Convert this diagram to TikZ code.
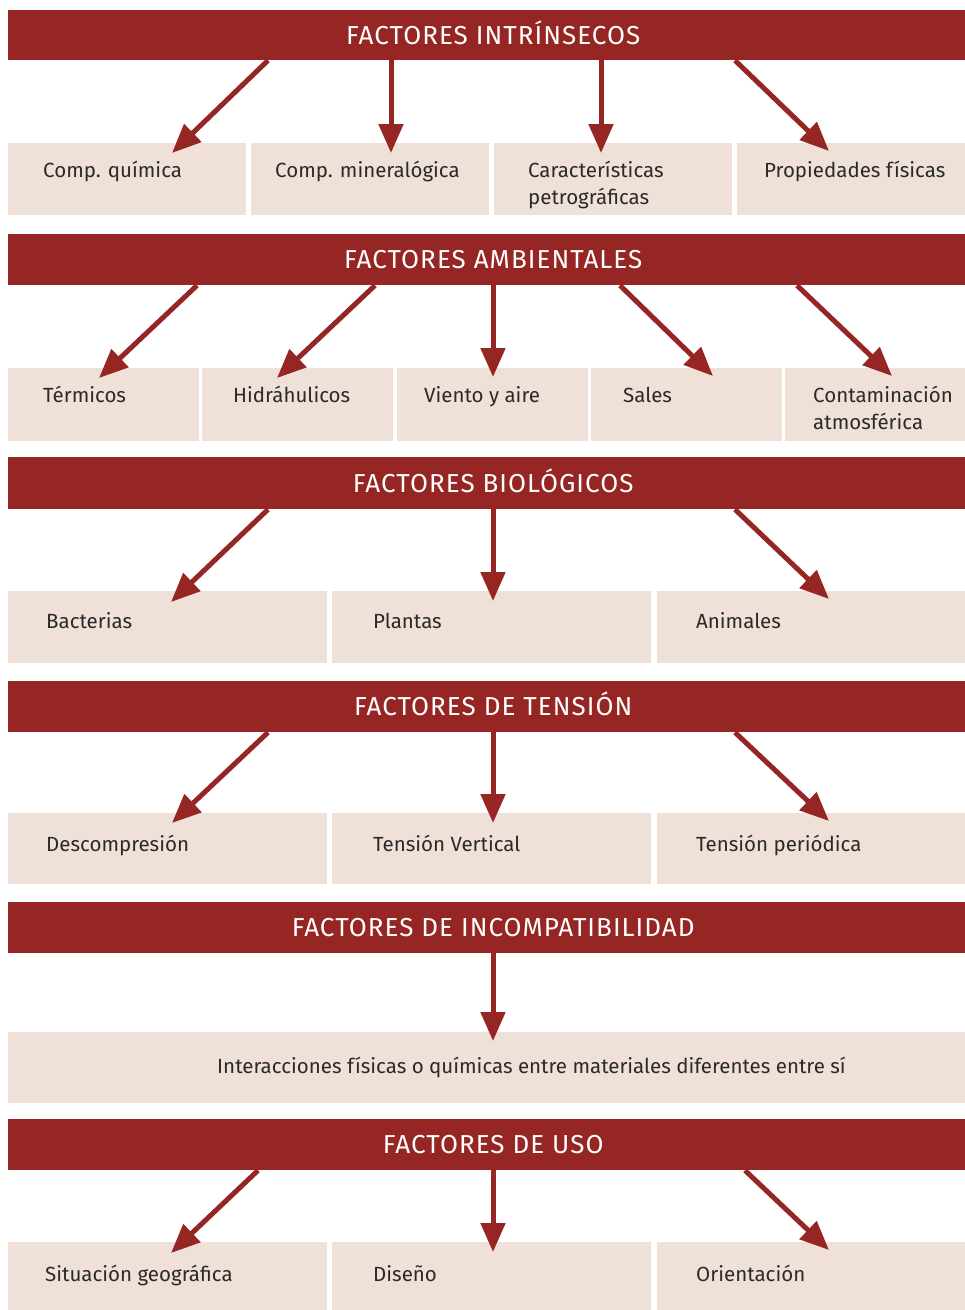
\documentclass[tikz,border=0pt]{standalone}
\usepackage{fontspec}
\setmainfont{Fira Sans}
\newfontfamily\hdrfont[LetterSpace=4]{Fira Sans}
\usetikzlibrary{arrows.meta,calc}
\definecolor{hdr}{HTML}{962624}
\definecolor{boxc}{HTML}{EFE0D8}
\definecolor{txtc}{HTML}{2A2A2A}
\tikzset{
  hdrbox/.style={fill=hdr, draw=none, anchor=north west, inner sep=0pt, minimum width=957pt, text=white,
    text height=18pt, text depth=0pt, font=\hdrfont\fontsize{26}{30}\selectfont},
  itembox/.style={fill=boxc, draw=none, anchor=north west, inner sep=0pt},
  itemtxt/.style={anchor=base west, inner sep=0pt, text=txtc, align=left, font=\fontsize{20.5}{27}\selectfont},
  arr/.style={draw=hdr, line width=5pt, -{Triangle[length=29pt,width=24pt]}}
}
% name, x1, x2, ytop, h, text dx, text baseline dy, text
\newcommand{\itm}[8]{%
  \node[itembox, minimum width={(#3-#2)*1pt}, minimum height={#5*1pt}] (#1) at (#2,#4) {};
  \node[itemtxt] (#1t) at ($(#1.north west)+(#6,#7)$) {#8};
}
\newcommand{\hsh}{\hspace*{13pt}}
\begin{document}
\begin{tikzpicture}[x=1pt,y=-1pt]
\useasboundingbox[fill=white] (0,0) rectangle (965,1310);

% ---------- Row 1
\node[hdrbox, minimum height=50pt] (h1) at (8,10) {\hsh FACTORES INTRÍNSECOS};
\itm{b11}{8}{246}{143}{72}{35}{34}{Comp. química}
\itm{b12}{251}{489}{143}{72}{24}{34}{Comp. mineralógica}
\itm{b13}{494}{732}{143}{72}{34}{61}{Características\\petrográficas}
\itm{b14}{737}{965}{143}{72}{27}{34}{Propiedades físicas}
\draw[arr] ($(h1.south west)+(260,0)$) -- ($(b11.north west)+(164,10)$);
\draw[arr] ($(h1.south west)+(383,0)$) -- ($(b12.north west)+(140,10)$);
\draw[arr] ($(h1.south west)+(593,0)$) -- ($(b13.north west)+(107,10)$);
\draw[arr] ($(h1.south west)+(727,0)$) -- ($(b14.north west)+(92,8)$);

% ---------- Row 2
\node[hdrbox, minimum height=51pt] (h2) at (8,234) {\hsh FACTORES AMBIENTALES};
\itm{b21}{8}{199}{368}{73}{35}{34}{Térmicos}
\itm{b22}{202}{393}{368}{73}{31}{34}{Hidráhulicos}
\itm{b23}{397}{588}{368}{73}{27}{34}{Viento y aire}
\itm{b24}{591}{782}{368}{73}{32}{34}{Sales}
\itm{b25}{785}{965}{368}{73}{28}{61}{Contaminación\\atmosférica}
\draw[arr] ($(h2.south west)+(189,0)$) -- ($(b21.north west)+(91,10)$);
\draw[arr] ($(h2.south west)+(367,0)$) -- ($(b22.north west)+(75,10)$);
\draw[arr] ($(h2.south west)+(485,0)$) -- ($(b23.north west)+(96,9)$);
\draw[arr] ($(h2.south west)+(612,0)$) -- ($(b24.north west)+(122,8)$);
\draw[arr] ($(h2.south west)+(789,0)$) -- ($(b25.north west)+(107,8)$);

% ---------- Row 3
\node[hdrbox, minimum height=52pt] (h3) at (8,457) {\hsh FACTORES BIOLÓGICOS};
\itm{b31}{8}{327}{591}{72}{38}{37}{Bacterias}
\itm{b32}{332}{651}{591}{72}{41}{37}{Plantas}
\itm{b33}{657}{965}{591}{72}{39}{37}{Animales}
\draw[arr] ($(h3.south west)+(260,0)$) -- ($(b31.north west)+(163,11)$);
\draw[arr] ($(h3.south west)+(485,0)$) -- ($(b32.north west)+(161,10)$);
\draw[arr] ($(h3.south west)+(727,0)$) -- ($(b33.north west)+(172,8)$);

% ---------- Row 4
\node[hdrbox, minimum height=51pt] (h4) at (8,681) {\hsh FACTORES DE TENSIÓN};
\itm{b41}{8}{327}{813}{71}{38}{38}{Descompresión}
\itm{b42}{332}{651}{813}{71}{41}{38}{Tensión Vertical}
\itm{b43}{657}{965}{813}{71}{39}{38}{Tensión periódica}
\draw[arr] ($(h4.south west)+(260,0)$) -- ($(b41.north west)+(164,10)$);
\draw[arr] ($(h4.south west)+(485,0)$) -- ($(b42.north west)+(161,10)$);
\draw[arr] ($(h4.south west)+(727,0)$) -- ($(b43.north west)+(172,8)$);

% ---------- Row 5
\node[hdrbox, minimum height=51pt] (h5) at (8,902) {\hsh FACTORES DE INCOMPATIBILIDAD};
\itm{b51}{8}{965}{1032}{71}{209}{41}{Interacciones físicas o químicas entre materiales diferentes entre sí}
\draw[arr] ($(h5.south west)+(485,0)$) -- ($(b51.north west)+(485,9)$);

% ---------- Row 6
\node[hdrbox, minimum height=51pt] (h6) at (8,1119) {\hsh FACTORES DE USO};
\itm{b61}{8}{327}{1242}{68}{37}{39}{Situación geográfica}
\itm{b62}{332}{651}{1242}{68}{41}{39}{Diseño}
\itm{b63}{657}{965}{1242}{68}{39}{39}{Orientación}
\draw[arr] ($(h6.south west)+(250,0)$) -- ($(b61.north west)+(163,11)$);
\draw[arr] ($(h6.south west)+(485,0)$) -- ($(b62.north west)+(161,10)$);
\draw[arr] ($(h6.south west)+(737,0)$) -- ($(b63.north west)+(172,8)$);
\end{tikzpicture}
\end{document}
